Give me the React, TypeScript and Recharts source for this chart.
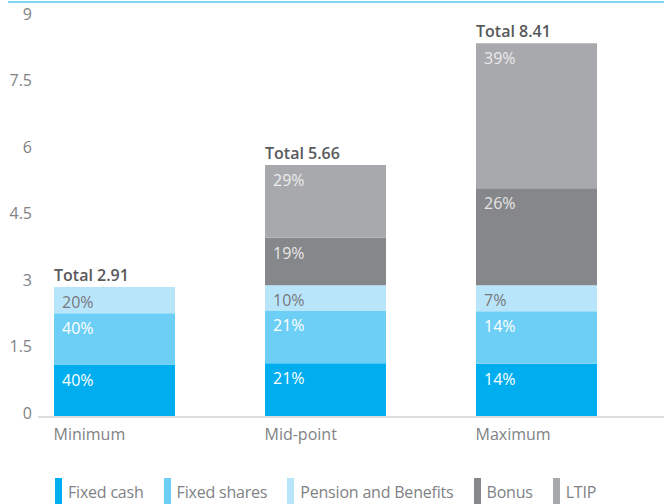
import React from "react";
import { BarChart, Bar, XAxis, YAxis, LabelList } from "recharts";

const categories = ["Minimum", "Mid-point", "Maximum"];
const fixedCash = [1.16, 1.19, 1.18];
const fixedShares = [1.16, 1.19, 1.18];
const pension = [0.59, 0.57, 0.59];
const bonus = [0, 1.07, 2.19];
const ltip = [0, 1.64, 3.27];
const totals = ["2.91", "5.66", "8.41"];

const fixedCashPct = ["40%", "21%", "14%"];
const fixedSharesPct = ["40%", "21%", "14%"];
const pensionPct = ["20%", "10%", "7%"];
const bonusPct = ["", "19%", "26%"];
const ltipPct = ["", "29%", "39%"];

const yTicks = [0, 1.5, 3, 4.5, 6, 7.5, 9];

const series = [
  { key: "fixedCash", name: "Fixed cash", color: "#00aeef", text: "#ffffff", pct: "fixedCashPct" },
  { key: "fixedShares", name: "Fixed shares", color: "#6dcff6", text: "#ffffff", pct: "fixedSharesPct" },
  { key: "pension", name: "Pension and Benefits", color: "#b9e5fb", text: "#77787b", pct: "pensionPct" },
  { key: "bonus", name: "Bonus", color: "#86878b", text: "#e6e6e6", pct: "bonusPct" },
  { key: "ltip", name: "LTIP", color: "#a8a9ad", text: "#ececec", pct: "ltipPct" },
];

const data = categories.map((name, i) => ({
  name,
  fixedCash: fixedCash[i],
  fixedShares: fixedShares[i],
  pension: pension[i],
  bonus: bonus[i],
  ltip: ltip[i],
  fixedCashPct: fixedCashPct[i],
  fixedSharesPct: fixedSharesPct[i],
  pensionPct: pensionPct[i],
  bonusPct: bonusPct[i],
  ltipPct: ltipPct[i],
  total: "Total " + totals[i],
}));

const font = "'Open Sans', sans-serif";

function pctLabel(color: string) {
  return (props: any) => {
    const { x, y, value } = props;
    if (!value) return null;
    return (
      <text x={x + 8} y={y + 15} fill={color} fontSize={16} fontFamily={font} dominantBaseline="central">
        {value}
      </text>
    );
  };
}

// total goes above the highest non-empty segment of each column
function totalLabel(seriesIdx: number) {
  return (props: any) => {
    const { x, y, value } = props;
    const row: any = data.find((d) => d.total === value);
    if (!row || !(row[series[seriesIdx].key] > 0)) return null;
    const above = series.slice(seriesIdx + 1).some((s) => row[s.key] > 0);
    if (above) return null;
    return (
      <text x={x} y={y - 12} fill="#58595b" fontSize={16} fontWeight={600} fontFamily={font} dominantBaseline="central">
        {value}
      </text>
    );
  };
}

export default function App() {
  return (
    <div style={{ position: "absolute", left: 0, top: 0, width: 664, height: 504, overflow: "hidden", background: "#fff", fontFamily: font }}>
      <div style={{ position: "absolute", left: 8, top: 1, width: 656, height: 2, background: "#7dd3f2" }} />
      <div style={{ position: "absolute", left: 38, top: 416, width: 626, height: 1.5, background: "#dcdcdc" }} />
      <BarChart width={664} height={504} data={data} margin={{ top: 17, right: 22, left: 0, bottom: 58 }} barSize={121}>
        <XAxis
          dataKey="name"
          height={30}
          axisLine={false}
          tickLine={false}
          tick={{ fill: "#808285", fontSize: 16, fontFamily: font, textAnchor: "start", dx: -61, dy: 5 }}
        />
        <YAxis
          width={9}
          domain={[0, 9]}
          ticks={yTicks}
          interval={0}
          axisLine={false}
          tickLine={false}
          tickSize={0}
          tickMargin={0}
          tick={{ fill: "#808285", fontSize: 16, fontFamily: font, dx: 23, dy: -3 }}
        />
        {series.map((s, si) => (
          <Bar key={s.key} dataKey={s.key} name={s.name} stackId="a" fill={s.color} isAnimationActive={false}>
            <LabelList dataKey={s.pct} content={pctLabel(s.text)} />
            {si >= 2 ? <LabelList dataKey="total" content={totalLabel(si)} /> : null}
          </Bar>
        ))}
      </BarChart>
      <div style={{ position: "absolute", left: 55, top: 478, display: "flex", alignItems: "flex-start" }}>
        {series.map((s) => (
          <div key={s.key} style={{ display: "flex", alignItems: "flex-start", marginRight: 20 }}>
            <div style={{ width: 7, height: 30, background: s.color, marginRight: 6 }} />
            <span style={{ fontSize: 16, color: "#808285", lineHeight: "28px", letterSpacing: -0.2, whiteSpace: "nowrap" }}>{s.name}</span>
          </div>
        ))}
      </div>
    </div>
  );
}
